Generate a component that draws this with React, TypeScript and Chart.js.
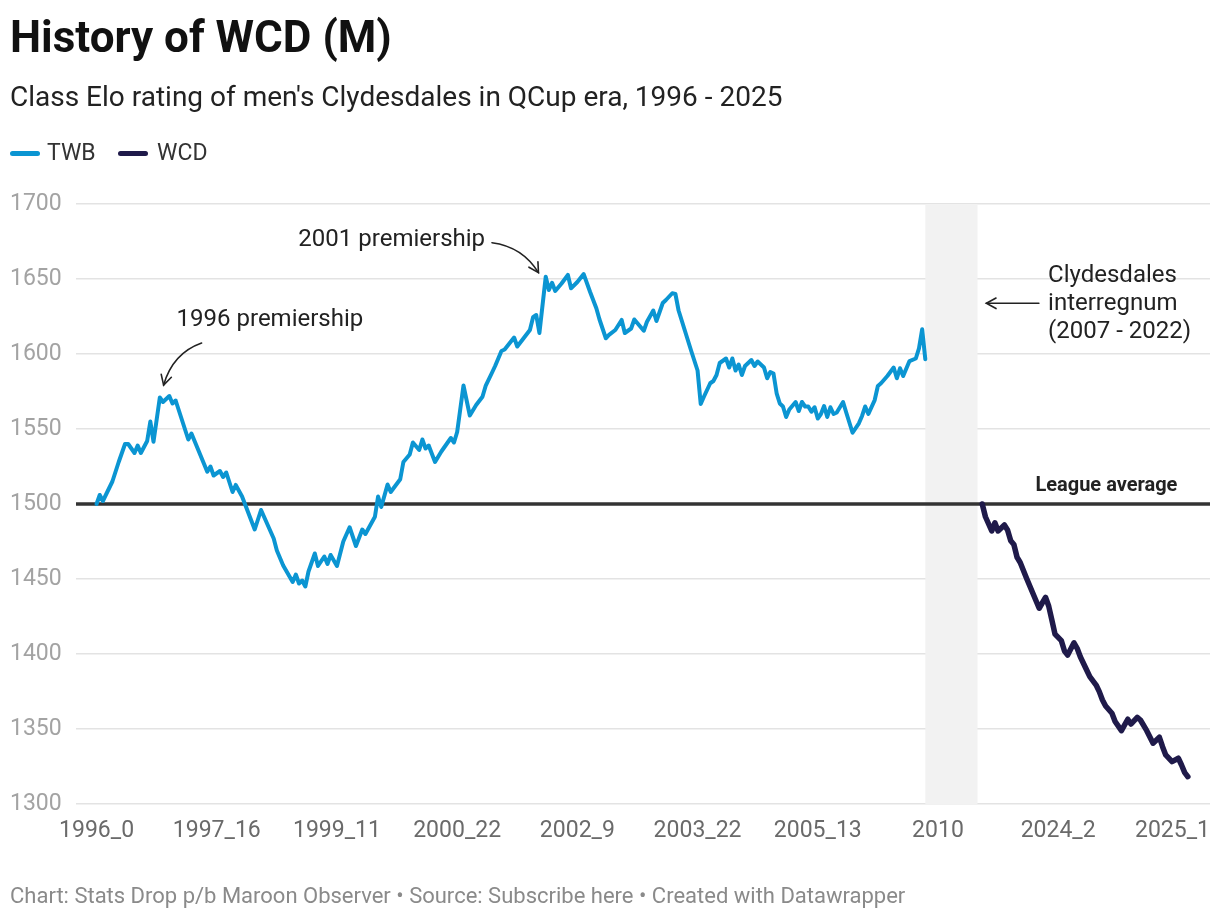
import React, { useEffect, useRef } from "react";
import { Chart, registerables } from "chart.js";
Chart.register(...registerables);

// ---- data (x = row index of the season/round category) ----
const tickIdx = [0, 38, 76, 114, 152, 190, 228, 266, 304, 342];
const tickLabels = ["1996_0", "1997_16", "1999_11", "2000_22", "2002_9", "2003_22", "2005_13", "2010", "2024_2", "2025_1"];

const twbIdx = [0, 1, 2, 5, 7, 9, 10, 12, 13, 14, 16, 17, 18, 20, 21, 23, 24, 25, 29, 30, 35, 36, 37, 39, 40, 41, 43, 44, 46, 50, 52, 56, 57, 59, 62, 63, 64, 65, 66, 67, 69, 70, 72, 73, 74, 76, 78, 80, 82, 84, 85, 88, 89, 90, 92, 93, 96, 97, 99, 100, 102, 103, 104, 105, 107, 109, 112, 113, 114, 116, 118, 120, 122, 123, 125, 126, 128, 129, 132, 133, 135, 137, 138, 139, 140, 142, 143, 144, 145, 147, 149, 150, 152, 154, 156, 158, 159, 161, 162, 164, 166, 167, 169, 170, 173, 174, 176, 177, 179, 180, 182, 183, 184, 186, 188, 190, 191, 192, 194, 195, 196, 197, 199, 200, 201, 202, 203, 204, 205, 207, 208, 209, 211, 212, 213, 214, 215, 216, 217, 218, 219, 221, 222, 223, 224, 225, 226, 227, 228, 229, 230, 231, 232, 233, 234, 236, 237, 239, 241, 242, 243, 244, 246, 247, 248, 250, 252, 253, 254, 255, 257, 259, 260, 261, 262];
const twbVal = [1500, 1506, 1502, 1515, 1528, 1540, 1540, 1534, 1539, 1534, 1542, 1555, 1541.5, 1571, 1568, 1572, 1567, 1569, 1543, 1547, 1521.5, 1525, 1519, 1522, 1518, 1521, 1508, 1512.7, 1505, 1483, 1496, 1477, 1469, 1459, 1448, 1453, 1447, 1449, 1445, 1455, 1467, 1458.7, 1465, 1460, 1466, 1458.7, 1475, 1484.5, 1472, 1483, 1480, 1491.5, 1505, 1498, 1513, 1508, 1516.5, 1528, 1533, 1541, 1536, 1543, 1537, 1539, 1528, 1535, 1544, 1541, 1548, 1579, 1559, 1566, 1571.5, 1578.7, 1587.5, 1592, 1602, 1603, 1611, 1605, 1610.5, 1616, 1624.5, 1626, 1614, 1651.5, 1642.7, 1647.5, 1642, 1647, 1652.7, 1643.8, 1648, 1653.3, 1641.5, 1630.5, 1623, 1610.5, 1612.7, 1616, 1622.7, 1614, 1617, 1623, 1615.5, 1621.5, 1629, 1622, 1634, 1636, 1640.5, 1640, 1629, 1615.5, 1602, 1589, 1566.7, 1571.5, 1580.5, 1582, 1586, 1594, 1597, 1591, 1597, 1589, 1593, 1586, 1592, 1596, 1592, 1595, 1591, 1583.8, 1588, 1587, 1573.8, 1567, 1565, 1558, 1563, 1568, 1562, 1568, 1565, 1565, 1561.5, 1564.5, 1557, 1560, 1565.3, 1558, 1564.5, 1560, 1561, 1568, 1561, 1547.5, 1553.8, 1558.7, 1565, 1560, 1569.3, 1578.7, 1580.5, 1585.3, 1591, 1583.8, 1590.5, 1585.3, 1595.3, 1597, 1603.8, 1616.5, 1596.5];

const wcdIdx = [280, 281, 283, 284, 285, 287, 288, 289, 290, 291, 292, 294, 296, 298, 300, 301, 302, 303, 305, 306, 307, 309, 310, 311, 313, 314, 316, 317, 318, 319, 321, 322, 324, 326, 327, 329, 330, 332, 334, 336, 337, 338, 340, 342, 343, 344, 345];
const wcdVal = [1500, 1491.5, 1482, 1487.5, 1482, 1486, 1482.7, 1475.5, 1473, 1464.5, 1461, 1450.5, 1440.5, 1430.5, 1437.8, 1432, 1422.7, 1413.3, 1408.9, 1402, 1399.3, 1407.5, 1403.8, 1398.2, 1389.3, 1384.9, 1379.3, 1374.9, 1369.3, 1365.3, 1360.5, 1355, 1348.9, 1356.5, 1353.3, 1357.8, 1356, 1348.9, 1340.5, 1344.5, 1338.2, 1332.7, 1328.2, 1330.5, 1326, 1320.9, 1318.2];

const gapRange = [262, 278.5]; // Clydesdales interregnum rows
const leagueAverage = 1500;
const yMin = 1300;
const yMax = 1700;
const yStep = 50;

const seriesNames = ["TWB", "WCD"];
const seriesColors = ["#0b95d2", "#1f1a4a"];

// annotations in data coordinates [index, rating]
const noteTexts = [["1996 premiership"], ["2001 premiership"], ["Clydesdales", "interregnum", "(2007 - 2022)"]];
const notePos = [[25.3, 1622.7], [63.8, 1676], [300.8, 1652]];
const arrowFrom = [[33.2, 1607.3], [125.0, 1674.2], [297.9, 1633.8]];
const arrowCtrl = [[24.1, 1600.5], [134.7, 1671.5], [289.6, 1633.8]];
const arrowTo = [[21.2, 1579.3], [139.7, 1654.2], [281.3, 1633.8]];
const leagueLabel = "League average";
const leagueLabelPos = [341.7, 1512.2];

export default function App() {
  const ref = useRef<HTMLCanvasElement | null>(null);

  useEffect(() => {
    if (!ref.current) return;
    const ctxEl = ref.current;

    const overlay = {
      id: "overlay",
      beforeDatasetsDraw(chart: any) {
        const { ctx, chartArea, scales } = chart;
        const xs = scales.x, ys = scales.y;
        ctx.save();
        const x0 = xs.getPixelForValue(gapRange[0]);
        const x1 = xs.getPixelForValue(gapRange[1]);
        ctx.fillStyle = "#f2f2f2";
        ctx.fillRect(x0, chartArea.top, x1 - x0, chartArea.bottom - chartArea.top);
        const yl = ys.getPixelForValue(leagueAverage);
        ctx.strokeStyle = "#333333";
        ctx.lineWidth = 3.5;
        ctx.beginPath();
        ctx.moveTo(chartArea.left, yl);
        ctx.lineTo(chartArea.right, yl);
        ctx.stroke();
        ctx.restore();
      },
      afterDatasetsDraw(chart: any) {
        const { ctx, chartArea, scales } = chart;
        const xs = scales.x, ys = scales.y;
        const px = (p: number[]) => [xs.getPixelForValue(p[0]), ys.getPixelForValue(p[1])];
        ctx.save();
        // notes
        ctx.fillStyle = "#222222";
        ctx.font = "24px Roboto";
        ctx.textBaseline = "middle";
        ctx.textAlign = "left";
        noteTexts.forEach((lines, i) => {
          const [x, y] = px(notePos[i]);
          lines.forEach((t, j) => ctx.fillText(t, x, y + j * 27.8));
        });
        // arrows
        ctx.strokeStyle = "#222222";
        ctx.lineWidth = 1.6;
        ctx.lineCap = "round";
        arrowFrom.forEach((f, i) => {
          const [ax, ay] = px(f);
          const [cx, cy] = px(arrowCtrl[i]);
          const [bx, by] = px(arrowTo[i]);
          ctx.beginPath();
          ctx.moveTo(ax, ay);
          ctx.quadraticCurveTo(cx, cy, bx, by);
          ctx.stroke();
          const ang = Math.atan2(by - cy, bx - cx);
          const L = 11;
          ctx.beginPath();
          ctx.moveTo(bx - L * Math.cos(ang - 0.5), by - L * Math.sin(ang - 0.5));
          ctx.lineTo(bx, by);
          ctx.lineTo(bx - L * Math.cos(ang + 0.5), by - L * Math.sin(ang + 0.5));
          ctx.stroke();
        });
        // league average label
        const [lx, ly] = px(leagueLabelPos);
        ctx.font = "bold 20px Roboto";
        ctx.textAlign = "right";
        ctx.fillStyle = "#222222";
        ctx.fillText(leagueLabel, lx, ly);
        // x tick labels
        ctx.font = "23px Roboto";
        ctx.fillStyle = "#6a6a6a";
        ctx.textBaseline = "middle";
        tickIdx.forEach((v, i) => {
          const x = xs.getPixelForValue(v);
          const w = ctx.measureText(tickLabels[i]).width;
          let tx = x - w / 2;
          if (tx + w > chartArea.right) tx = chartArea.right - w;
          ctx.textAlign = "left";
          ctx.fillText(tickLabels[i], tx, chartArea.bottom + 27);
        });
        ctx.restore();
      },
    };

    const chart = new Chart(ctxEl, {
      type: "line",
      data: {
        datasets: [
          {
            label: seriesNames[0],
            data: twbIdx.map((x, i) => ({ x, y: twbVal[i] })),
            borderColor: seriesColors[0],
            borderWidth: 4,
            pointRadius: 0,
            tension: 0,
            borderJoinStyle: "round",
            borderCapStyle: "round",
            fill: false,
          },
          {
            label: seriesNames[1],
            data: wcdIdx.map((x, i) => ({ x, y: wcdVal[i] })),
            borderColor: seriesColors[1],
            borderWidth: 5.5,
            pointRadius: 0,
            tension: 0,
            borderJoinStyle: "round",
            borderCapStyle: "round",
            fill: false,
          },
        ],
      },
      options: {
        animation: false,
        responsive: false,
        maintainAspectRatio: false,
        events: [],
        layout: { padding: { left: 10, right: 10, top: 204, bottom: 0 } },
        plugins: { legend: { display: false }, tooltip: { enabled: false } },
        scales: {
          x: {
            type: "linear",
            min: -6.5,
            max: 352,
            grid: { display: false },
            border: { display: false },
            ticks: { display: false },
            afterFit: (s: any) => { s.height = 116; },
          },
          y: {
            min: yMin,
            max: yMax,
            grid: { color: "#e3e3e3", lineWidth: 1.5, drawTicks: false },
            border: { display: false },
            ticks: {
              stepSize: yStep,
              crossAlign: "far",
              color: "#a3a3a3",
              font: { family: "Roboto", size: 23 },
              callback: (v: any) => String(v),
            },
            afterFit: (s: any) => { s.width = 66; },
          },
        },
      },
      plugins: [overlay],
    } as any);
    return () => chart.destroy();
  }, []);

  const txt = (style: React.CSSProperties, children: React.ReactNode) => (
    <div style={{ position: "absolute", whiteSpace: "nowrap", lineHeight: 1, fontFamily: "Roboto", ...style }}>{children}</div>
  );

  return (
    <div style={{ position: "absolute", left: 0, top: 0, width: 1220, height: 920, background: "#fff", overflow: "hidden" }}>
      <canvas ref={ref} width={1220} height={920} style={{ position: "absolute", left: 0, top: 0, width: 1220, height: 920 }} />
      {txt({ left: 10, top: 15, fontSize: 44, fontWeight: 700, color: "#111" }, "History of WCD (M)")}
      {txt({ left: 10, top: 83, fontSize: 28, color: "#222" }, "Class Elo rating of men's Clydesdales in QCup era, 1996 - 2025")}
      <div style={{ position: "absolute", left: 10, top: 151, width: 30, height: 5, borderRadius: 3, background: seriesColors[0] }} />
      {txt({ left: 47, top: 141, fontSize: 23, color: "#333" }, seriesNames[0])}
      <div style={{ position: "absolute", left: 118, top: 151, width: 30, height: 5, borderRadius: 3, background: seriesColors[1] }} />
      {txt({ left: 157, top: 141, fontSize: 23, color: "#333" }, seriesNames[1])}
      {txt({ left: 10, top: 885, fontSize: 22, color: "#8a8a8a" }, "Chart: Stats Drop p/b Maroon Observer • Source: Subscribe here • Created with Datawrapper")}
    </div>
  );
}
